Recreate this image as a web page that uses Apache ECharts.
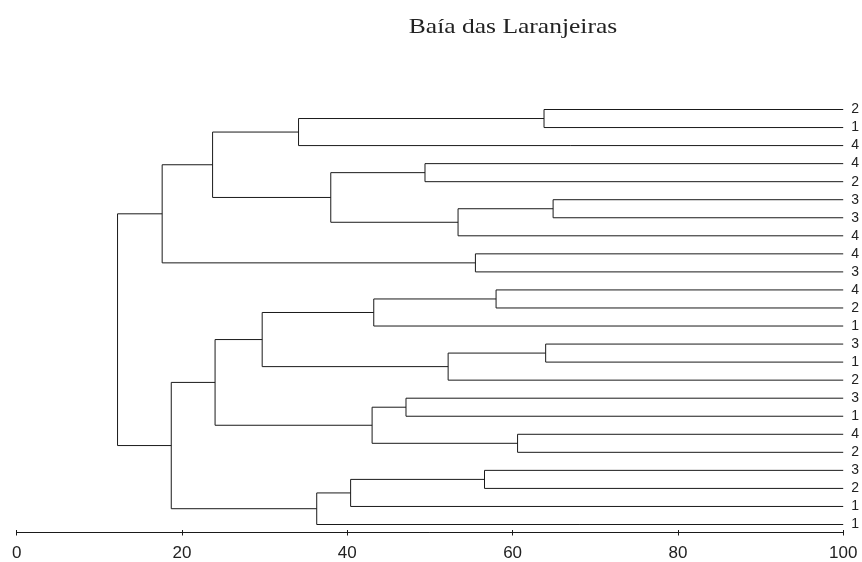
<!DOCTYPE html>
<html>
<head>
<meta charset="utf-8">
<script src="https://cdn.jsdelivr.net/npm/echarts@6/dist/echarts.min.js"></script>
<style>html,body{margin:0;padding:0;background:#fff;}#main{width:862px;height:562px;}</style>
</head>
<body>
<div id="main"></div>
<script>
// Leaf labels, top to bottom
const leafLabels = ['2','1','4','4','2','3','3','4','4','3','4','2','1','3','1','2','3','1','4','2','3','2','1','1'];
// Merge steps: negative = leaf number (1-based, top to bottom), positive = earlier merge number (1-based)
const mergeLeft   = [-1,  1, -4, -6,  4,  3,  2, -9,  7, -11, 10, -14, 12, 11, -17, -19, 15, 14, -21, 19, 20, 18,  9];
const mergeRight  = [-2, -3, -5, -7, -8,  5,  6, -10, 8, -12, -13, -15, -16, 13, -18, -20, 16, 17, -22, -23, -24, 21, 22];
const mergeHeight = [63.8, 34.1, 49.4, 64.9, 53.4, 38.0, 23.7, 55.5, 17.6, 58.0, 43.2, 64.0, 52.2, 29.7, 47.1, 60.6, 43.0, 24.0, 56.6, 40.4, 36.3, 18.7, 12.2];
const xTicks = [0, 20, 40, 60, 80, 100];
const leafLevel = 100;

// Build dendrogram segments (data space) from the merge table
const nodeY = [], nodeX = [];
function childPos(c) {
  if (c < 0) return { x: leafLevel, y: -c - 1 };
  return { x: nodeX[c - 1], y: nodeY[c - 1] };
}
const segments = [];
for (let i = 0; i < mergeHeight.length; i++) {
  const a = childPos(mergeLeft[i]);
  const b = childPos(mergeRight[i]);
  const h = mergeHeight[i];
  segments.push([a.x, a.y, h, a.y]);
  segments.push([b.x, b.y, h, b.y]);
  segments.push([h, a.y, h, b.y]);
  nodeX.push(h);
  nodeY.push((a.y + b.y) / 2);
}

const chart = echarts.init(document.getElementById('main'), null, { renderer: 'canvas' });
const lineColor = '#1a1a1a';
const GRID_TOP = 109.5, AXIS_Y = 533.5;
chart.setOption({
  animation: false,
  backgroundColor: '#ffffff',
  graphic: [{
    type: 'text',
    x: 513, y: 27.6, scaleX: 1.16,
    style: {
      text: 'Baía das Laranjeiras',
      font: '22px "Liberation Serif", "Times New Roman", serif',
      fill: '#222',
      align: 'center',
      verticalAlign: 'middle'
    }
  }],
  grid: { left: 16.7, right: 18.3, top: GRID_TOP, bottom: 36 },
  xAxis: [{
    type: 'value', min: 0, max: 100, interval: 20, position: 'bottom', offset: AXIS_Y - 526,
    axisLine: { show: true, onZero: false, lineStyle: { color: lineColor, width: 1 } },
    axisTick: { show: true, inside: false, length: 3.5, lineStyle: { color: lineColor } },
    axisLabel: { show: true, margin: 13, fontSize: 17, color: '#222', fontFamily: '"Liberation Sans", Arial, sans-serif',
      formatter: v => xTicks.indexOf(v) >= 0 ? String(v) : '' },
    splitLine: { show: false }
  }, {
    // upper half of the crossing tick marks
    type: 'value', min: 0, max: 100, interval: 20, position: 'top', offset: -(AXIS_Y - GRID_TOP),
    axisLine: { show: false, onZero: false },
    axisTick: { show: true, inside: false, length: 3.5, lineStyle: { color: lineColor } },
    axisLabel: { show: false },
    splitLine: { show: false }
  }],
  yAxis: [{
    type: 'value', min: 0, max: 23, inverse: true, show: false
  }, {
    type: 'category', data: leafLabels, inverse: true, boundaryGap: false, position: 'right',
    axisLine: { show: false }, axisTick: { show: false }, splitLine: { show: false },
    axisLabel: { show: true, interval: 0, hideOverlap: false, margin: 8, fontSize: 14, color: '#222', fontFamily: '"Liberation Sans", Arial, sans-serif' }
  }],
  series: [{
    type: 'custom',
    xAxisIndex: 0, yAxisIndex: 0,
    data: segments,
    dimensions: ['x1', 'y1', 'x2', 'y2'],
    encode: { x: [0, 2], y: [1, 3] },
    renderItem: function (params, api) {
      const p1 = api.coord([api.value(0), api.value(1)]);
      const p2 = api.coord([api.value(2), api.value(3)]);
      return {
        type: 'line',
        shape: { x1: p1[0], y1: p1[1], x2: p2[0], y2: p2[1] },
        style: { stroke: lineColor, lineWidth: 1 }
      };
    },
    silent: true
  }]
});
</script>
</body>
</html>
